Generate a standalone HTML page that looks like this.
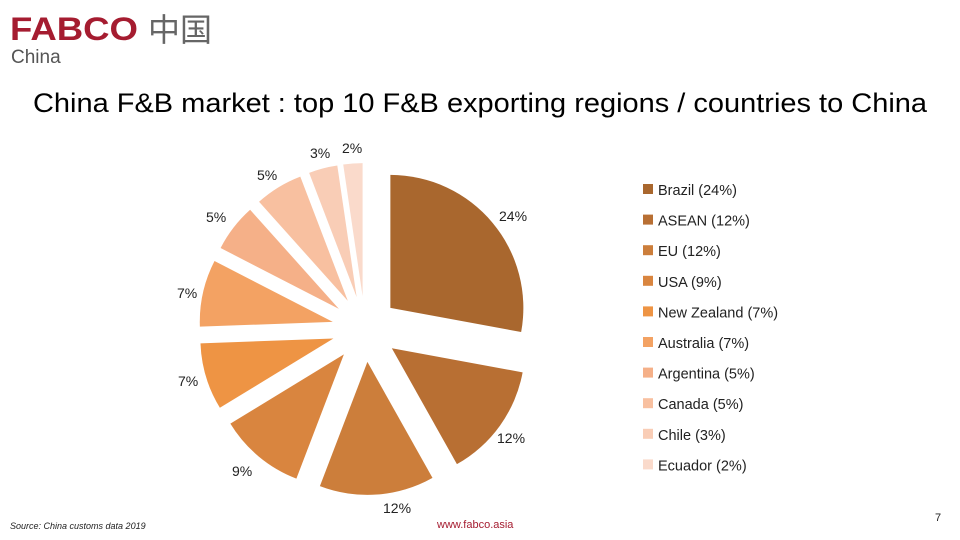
<!DOCTYPE html>
<html><head><meta charset="utf-8"><style>
body{margin:0;background:#fff;}
svg{display:block;font-family:"Liberation Sans","Noto Sans CJK SC",sans-serif;}
</style></head><body>
<svg id="s" width="960" height="540" viewBox="0 0 960 540">
<text x="10" y="40" font-size="32" font-weight="bold" fill="#A51C30" textLength="128" lengthAdjust="spacingAndGlyphs">FABCO</text>
<text x="148" y="41" font-size="32" fill="#666" font-family="Noto Sans CJK SC,sans-serif">中国</text>
<text x="11" y="63" font-size="19" fill="#555">China</text>
<text x="480" y="112" font-size="27" fill="#000" text-anchor="middle" textLength="894" lengthAdjust="spacingAndGlyphs">China F&amp;B market : top 10 F&amp;B exporting regions / countries to China</text>
<g id="pie"></g>
<g font-size="14" fill="#222">
<text x="499" y="221">24%</text>
<text x="497" y="443">12%</text>
<text x="383" y="513">12%</text>
<text x="232" y="476">9%</text>
<text x="178" y="386">7%</text>
<text x="177" y="298">7%</text>
<text x="206" y="222">5%</text>
<text x="257" y="180">5%</text>
<text x="310" y="158">3%</text>
<text x="342" y="153">2%</text>
</g>
<g id="leg" font-size="14.5" fill="#222"></g>
<text x="10" y="529" font-size="9" font-style="italic" fill="#222">Source: China customs data 2019</text>
<text x="437" y="528" font-size="11" fill="#A51C30">www.fabco.asia</text>
<text x="935" y="521" font-size="11" fill="#222">7</text>
</svg>
<script>
var names=["Brazil (24%)","ASEAN (12%)","EU (12%)","USA (9%)","New Zealand (7%)","Australia (7%)","Argentina (5%)","Canada (5%)","Chile (3%)","Ecuador (2%)"];
var v=[24,12,12,9,7,7,5,5,3,2];
var c=["#A9672E","#B86F33","#CC7E3B","#D9853F","#EE9444","#F3A263","#F5B088","#F8C0A0","#F9CDB6","#FADACB"];
var cx=365,cy=329,r=133,d=33,tot=86,a=0,h="",l="";
for(var i=0;i<10;i++){
 var s=a,e=a+v[i]/tot*360,m=(s+e)/2,R=Math.PI/180;
 var ox=cx+d*Math.sin(m*R),oy=cy-d*Math.cos(m*R);
 var x1=ox+r*Math.sin(s*R),y1=oy-r*Math.cos(s*R),x2=ox+r*Math.sin(e*R),y2=oy-r*Math.cos(e*R);
 h+='<path fill="'+c[i]+'" d="M'+ox+' '+oy+'L'+x1+' '+y1+'A'+r+' '+r+' 0 '+((e-s)>180?1:0)+' 1 '+x2+' '+y2+'Z"/>';
 a=e;
 var y=195+i*30.6;
 l+='<rect x="643" y="'+(y-11)+'" width="10" height="10" fill="'+c[i]+'"/><text x="658" y="'+y+'">'+names[i]+'</text>';
}
document.getElementById("pie").innerHTML=h;
document.getElementById("leg").innerHTML=l;
</script>
</body></html>
